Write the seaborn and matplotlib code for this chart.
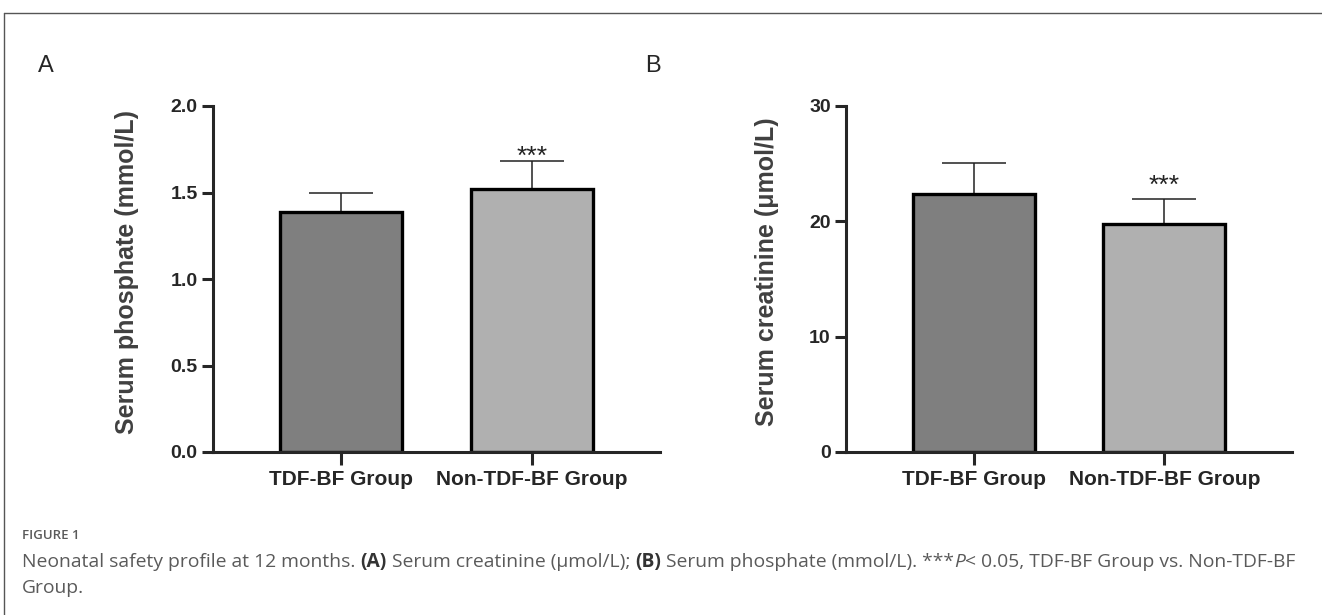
import matplotlib
matplotlib.use('Agg')
import matplotlib.pyplot as plt
from matplotlib.lines import Line2D
from matplotlib.ticker import FormatStrFormatter
import numpy as np
import pandas as pd
import seaborn as sns

# data
groups = ['TDF-BF Group', 'Non-TDF-BF Group']
phosphate_mean = [1.39, 1.52]
phosphate_sd = [0.11, 0.16]
creatinine_mean = [22.4, 19.8]
creatinine_sd = [2.7, 2.1]
bar_colors = ['#7f7f7f', '#b0b0b0']

W, H = 1322, 615

sns.set_style('ticks')
plt.rcParams['font.family'] = ['Liberation Sans', 'DejaVu Sans']

fig = plt.figure(figsize=(W / 100, H / 100), dpi=100)


def draw_panel(ax, means, sds, ylim, yticks, fmt, ylabel, star_off, label_x):
    df = pd.DataFrame({'group': groups, 'value': means})
    sns.barplot(data=df, x='group', y='value', hue='group', palette=bar_colors,
                width=0.64, edgecolor='black', linewidth=2.4, errorbar=None,
                legend=False, ax=ax)
    x = np.arange(len(groups))
    ax.errorbar(x, means, yerr=[np.zeros(len(sds)), sds], fmt='none',
                ecolor='#222222', elinewidth=1.1, capsize=23, capthick=1.1,
                zorder=0.5)
    # significance mark on the second group
    ax.annotate('***', (x[1], means[1] + sds[1]), xytext=(0, star_off),
                textcoords='offset points', ha='center', va='baseline',
                fontsize=19, color='#222222')
    ax.set_xlim(-0.67, 1.67)
    ax.set_ylim(*ylim)
    ax.set_yticks(yticks)
    ax.yaxis.set_major_formatter(FormatStrFormatter(fmt))
    ax.set_xlabel('')
    ax.set_ylabel(ylabel, fontsize=18, fontweight='bold', color='#404040')
    ax.yaxis.set_label_coords(label_x, 0.52)
    sns.despine(ax=ax)
    for s in ['left', 'bottom']:
        ax.spines[s].set_linewidth(2.2)
    ax.tick_params(axis='y', length=8, width=2.2, labelsize=14, pad=3)
    ax.tick_params(axis='x', length=9, width=2.2, labelsize=15, pad=4)
    for lab in ax.get_xticklabels() + ax.get_yticklabels():
        lab.set_fontweight('bold')


ax1 = fig.add_axes([213 / W, 163 / H, 447 / W, 346 / H])
draw_panel(ax1, phosphate_mean, phosphate_sd, (0, 2.0), [0, 0.5, 1.0, 1.5, 2.0],
           '%.1f', 'Serum phosphate (mmol/L)', -1.5, -0.165)

ax2 = fig.add_axes([846 / W, 163 / H, 446 / W, 346 / H])
draw_panel(ax2, creatinine_mean, creatinine_sd, (0, 30), [0, 10, 20, 30],
           '%d', 'Serum creatinine (μmol/L)', 5, -0.15)

fig.text(38 / W, 1 - 72 / H, 'A', fontsize=17, va='baseline')
fig.text(645 / W, 1 - 72 / H, 'B', fontsize=17, va='baseline')

# page frame
fig.add_artist(Line2D([4 / W, 4 / W], [0, 1 - 13 / H], color='#555555', lw=1))
fig.add_artist(Line2D([4 / W, 1], [1 - 13 / H, 1 - 13 / H], color='#555555', lw=1))

# caption
renderer = fig.canvas.get_renderer()
cap_font = ['Open Sans', 'DejaVu Sans']


def text_width(s, size, weight='normal', style='normal'):
    t = fig.text(0, 0, s, fontsize=size, fontweight=weight, fontstyle=style,
                 family=cap_font)
    w = t.get_window_extent(renderer).width
    t.remove()
    return w


def caption_line(pieces, x_px, y_px, size):
    sw = text_width('n n', size) - text_width('nn', size)
    x = x_px
    for s, weight, style, color in pieces:
        lead = len(s) - len(s.lstrip(' '))
        trail = len(s) - len(s.rstrip(' '))
        x += lead * sw
        t = fig.text(x / W, 1 - y_px / H, s.strip(' '), fontsize=size,
                     fontweight=weight, fontstyle=style, color=color,
                     family=cap_font, va='baseline')
        x = t.get_window_extent(renderer).x1 + trail * sw


grey = '#5a5a5a'
dark = '#333333'
fig.text(22 / W, 1 - 539 / H, 'FIGURE 1', fontsize=9.5, fontweight='semibold',
         color=grey, family=cap_font, va='baseline')
caption_line([
    ('Neonatal safety profile at 12 months. ', 'normal', 'normal', grey),
    ('(A)', 'bold', 'normal', dark),
    (' Serum creatinine (μmol/L); ', 'normal', 'normal', grey),
    ('(B)', 'bold', 'normal', dark),
    (' Serum phosphate (mmol/L). ***', 'normal', 'normal', grey),
    ('P', 'normal', 'italic', grey),
    ('< 0.05, TDF-BF Group vs. Non-TDF-BF', 'normal', 'normal', grey),
], 22, 567, 13.9)
caption_line([('Group.', 'normal', 'normal', grey)], 22, 593, 13.9)

fig.savefig('out.png', dpi=100)
